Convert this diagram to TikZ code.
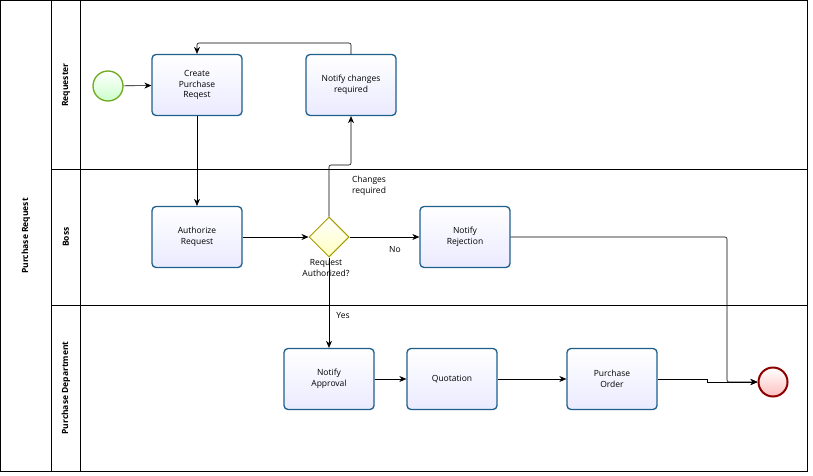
\documentclass[tikz,border=0pt]{standalone}
\usepackage{fontspec}
\setmainfont{Open Sans}
\usetikzlibrary{shapes.geometric,arrows.meta}
\definecolor{tb}{RGB}{30,95,140}
\definecolor{sg}{RGB}{110,170,30}
\tikzset{
 task/.style={draw=tb,line width=1.3pt,rounded corners=4pt,minimum width=90pt,minimum height=61pt,align=center,font=\fontsize{8.5}{10.5}\selectfont,top color=white,bottom color=blue!8},
 flow/.style={-{Stealth[length=7pt,width=6pt]},line width=0.6pt},
 lbl/.style={font=\fontsize{8.5}{10.5}\selectfont,align=center},
 lane/.style={font=\bfseries\fontsize{8.5}{10}\selectfont,rotate=90}
}
\begin{document}
\begin{tikzpicture}[x=1pt,y=-1pt]
\useasboundingbox (0,0) rectangle (813,476);
\draw[line width=0.6pt] (0,0) rectangle (807,471);
\draw (51,0) -- (51,471); \draw (80,0) -- (80,471);
\draw (51,169) -- (807,169); \draw (51,305) -- (807,305);
\node[lane] (pool) at (26,236) {Purchase Request};
\node[lane] (l1) at (66,85) {Requester};
\node[lane] (l2) at (66,237) {Boss};
\node[lane] (l3) at (66,388) {Purchase Department};
\node[circle,draw=sg,line width=1.3pt,minimum size=30pt,inner sep=0,top color=white,bottom color=green!20] (s) at (108,86) {};
\node[task] (c) at (197,85) {Create\\Purchase\\Reqest};
\node[task] (n) at (351,85) {Notify changes\\required};
\node[task] (a) at (197,237) {Authorize\\Request};
\node[diamond,draw=olive!80!yellow,line width=1pt,minimum size=40pt,inner sep=0,top color=white,bottom color=yellow!25] (g) at (329,237) {};
\node[task] (r) at (465,237) {Notify\\Rejection};
\node[task] (p) at (329,379) {Notify\\Approval};
\node[task] (q) at (452,379) {Quotation};
\node[task] (o) at (612,379) {Purchase\\Order};
\node[circle,draw=red!55!black,line width=2pt,minimum size=29pt,inner sep=0,top color=white,bottom color=red!25] (e) at (773,382) {};
\node[lbl] (gl) at (326,268) {Request\\Authorized?};
\node[lbl] (cl) at (369,186) {Changes\\required};
\node[lbl] (nl) at (395,250) {No};
\node[lbl] (yl) at (343,316) {Yes};
\draw[flow] (s) -- (c);
\draw[flow] (c) -- (a);
\draw[flow] (a) -- (g);
\draw[flow,rounded corners=2pt] (g.north) -- (329,165) -- (351,165) -- (n.south);
\draw[flow,rounded corners=2pt] (n.north) -- (351,43) -- (197,43) -- (c.north);
\draw[flow] (g) -- (r);
\draw[flow] (g) -- (p);
\draw[flow] (p) -- (q);
\draw[flow] (q) -- (o);
\draw[flow,rounded corners=2pt] (r.east) -- (727,237) -- (727,382) -- (e.west);
\draw[flow] (o.east) -- (707,379) -- (707,382) -- (e.west);
\end{tikzpicture}
\end{document}
